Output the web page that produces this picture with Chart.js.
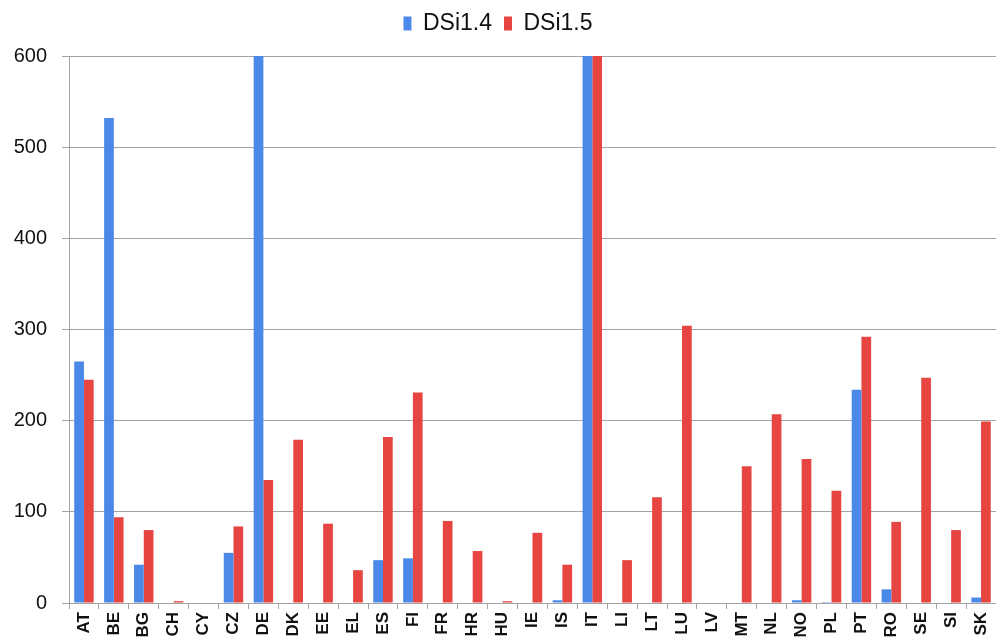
<!DOCTYPE html>
<html>
<head>
<meta charset="utf-8">
<script src="https://cdn.jsdelivr.net/npm/chart.js@4/dist/chart.umd.min.js"></script>
<style>
  html, body { margin: 0; padding: 0; background: #fff; overflow: hidden; }
</style>
</head>
<body>
<canvas id="myChart" width="996" height="640"></canvas>
<script>
const countries = ['AT', 'BE', 'BG', 'CH', 'CY', 'CZ', 'DE', 'DK', 'EE', 'EL', 'ES', 'FI', 'FR', 'HR', 'HU', 'IE',
  'IS', 'IT', 'LI', 'LT', 'LU', 'LV', 'MT', 'NL', 'NO', 'PL', 'PT', 'RO', 'SE', 'SI', 'SK'];

// DE and IT go past the top of the axis in the picture (clipped at 600)
const dsi14 = [265, 532, 42, 0, 0, 55, 650, 0, 0, 0, 47, 49, 0, 0, 0, 0,
  3, 650, 0, 0, 0, 0, 0, 0, 3, 1, 234, 15, 0, 0, 6];
const dsi15 = [245, 94, 80, 2, 0, 84, 135, 179, 87, 36, 182, 231, 90, 57, 2, 77,
  42, 650, 47, 116, 304, 0, 150, 207, 158, 123, 292, 89, 247, 80, 199];

const yTicks = [0, 100, 200, 300, 400, 500, 600];

const BLUE = '#4a89e8';
const RED = '#e64541';
const GRID = '#a3a3a3';
const FONT = '"Liberation Sans", Arial, sans-serif';

// legend box gets a fixed height so the plot starts where it does in the picture
const legendSpacer = {
  id: 'legendSpacer',
  beforeLayout(chart) {
    if (!chart.legend || chart.legend._patched) return;
    const origFit = chart.legend.fit;
    chart.legend.fit = function () {
      origFit.call(this);
      this.height = 56;
    };
    chart.legend._patched = true;
  }
};

const ctx = document.getElementById('myChart');
const chart = new Chart(ctx, {
  type: 'bar',
  data: {
    labels: countries,
    datasets: [
      { label: 'DSi1.4', data: dsi14, backgroundColor: BLUE },
      { label: 'DSi1.5', data: dsi15, backgroundColor: RED },
    ]
  },
  plugins: [legendSpacer],
  options: {
    responsive: false,
    animation: false,
    layout: { padding: 0 },
    datasets: {
      bar: { barPercentage: 1, categoryPercentage: 0.65 }
    },
    scales: {
      x: {
        grid: {
          display: true,
          drawOnChartArea: false,
          drawTicks: true,
          tickLength: 6,
          offset: true,
          color: GRID
        },
        border: { display: true, color: GRID },
        ticks: {
          autoSkip: false,
          maxRotation: 90,
          minRotation: 90,
          padding: 3,
          color: '#111',
          font: { family: FONT, size: 17, weight: 'bold' }
        },
        afterFit: (scale) => {
          scale.height = 37;
          scale.paddingLeft = 0;
          scale.paddingRight = 0;
        }
      },
      y: {
        min: 0,
        max: 600,
        afterBuildTicks: (scale) => { scale.ticks = yTicks.map(v => ({ value: v })); },
        grid: { color: GRID, tickLength: 7, lineWidth: 1 },
        border: { display: true, color: GRID },
        ticks: {
          padding: 15,
          color: '#111',
          font: { family: FONT, size: 20 }
        },
        afterFit: (scale) => { scale.width = 69; }
      }
    },
    plugins: {
      title: { display: false },
      tooltip: { enabled: false },
      legend: {
        display: true,
        position: 'top',
        align: 'center',
        labels: {
          boxWidth: 8,
          boxHeight: 14,
          padding: 12,
          color: '#111',
          font: { family: FONT, size: 23 }
        }
      }
    }
  }
});
</script>
</body>
</html>
